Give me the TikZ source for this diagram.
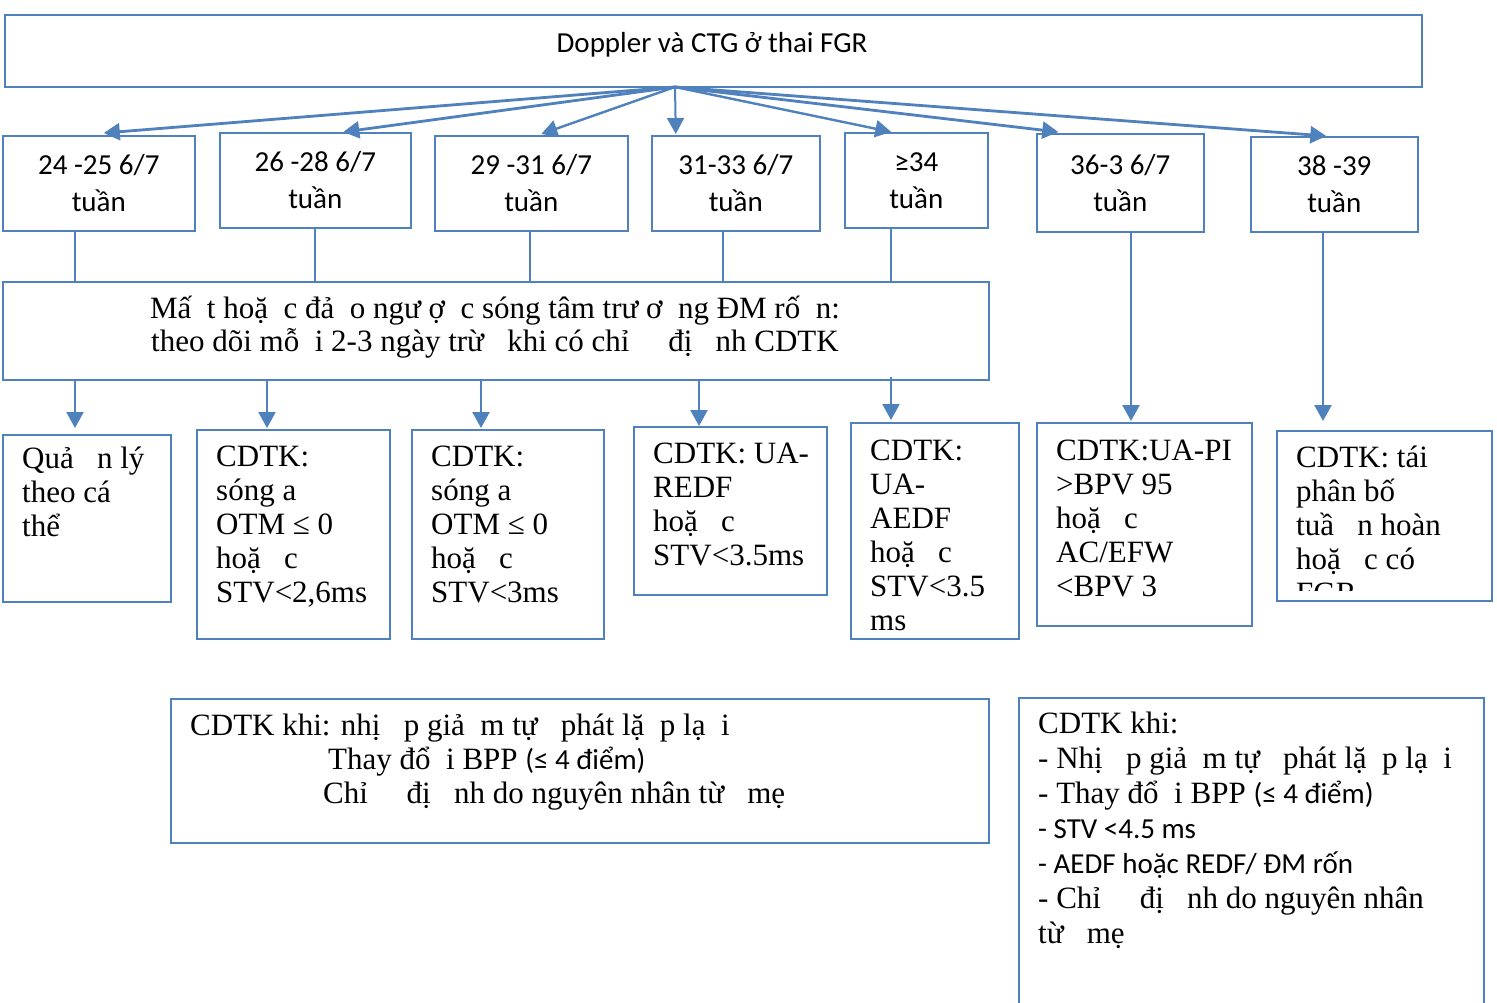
\documentclass[tikz,border=0pt]{standalone}
\usepackage{fontspec}
\setmainfont{Liberation Serif}
\newfontfamily\sansf{Carlito}
\usetikzlibrary{arrows.meta,calc}
\definecolor{bl}{HTML}{4F81BD}
\begin{document}
\begin{tikzpicture}[x=1pt,y=-1pt,
  box/.style={draw=bl,line width=1.6pt,inner sep=0pt,anchor=north west},
  agebox/.style={box,align=center,font=\sansf\fontsize{29}{37}\selectfont},
  txt/.style={anchor=north west,inner sep=0pt,align=left,font=\fontsize{31}{34}\selectfont},
  bigarr/.style={draw=bl,line width=2.8pt,-{Triangle[length=16pt,width=17pt]}},
  arr/.style={draw=bl,line width=2.4pt,-{Triangle[length=16pt,width=17pt]}},
  ln/.style={draw=bl,line width=1.4pt}]
\clip (0,0) rectangle (1497,1003);
\fill[white] (0,0) rectangle (1497,1003);
% top
\node[box,minimum width=1417pt,minimum height=72pt] (top) at (4,14) {};
\node[font=\sansf\fontsize{29}{34}\selectfont,inner sep=0pt] (title) at (712,45) {Doppler và CTG ở thai FGR};
% age boxes
\node[agebox,minimum width=192pt,minimum height=95pt] (b1) at (2,135) {24 -25 6/7\\tuần};
\node[agebox,minimum width=191pt,minimum height=95pt] (b2) at (219,132) {26 -28 6/7\\tuần};
\node[agebox,minimum width=193pt,minimum height=95pt] (b3) at (434,135) {29 -31 6/7\\tuần};
\node[agebox,minimum width=168pt,minimum height=95pt] (b4) at (651,135) {31-33 6/7\\tuần};
\node[agebox,minimum width=143pt,minimum height=95pt] (b5) at (844,132) {≥34\\tuần};
\node[agebox,minimum width=167pt,minimum height=98pt] (b6) at (1036,133) {36-3 6/7\\tuần};
\node[agebox,minimum width=167pt,minimum height=95pt] (b7) at (1250,136) {38 -39\\tuần};
% hub arrows
\coordinate (hub) at (675,87);
\draw[bigarr] (hub) -- ([xshift=5pt,yshift=2pt]b1.north);
\draw[bigarr] (hub) -- ([xshift=28pt,yshift=0pt]b2.north);
\draw[bigarr,line width=2.4pt] (hub) -- ([xshift=10pt,yshift=1pt]b3.north);
\draw[bigarr,line width=2pt] (hub) -- ([xshift=-60pt,yshift=1pt]b4.north);
\draw[bigarr,line width=2.4pt] (hub) -- ([xshift=-25pt,yshift=0pt]b5.north);
\draw[bigarr] (hub) -- ([xshift=-62pt,yshift=1pt]b6.north);
\draw[bigarr] (hub) -- ([xshift=-8pt,yshift=0pt]b7.north);
% middle box
\node[box,minimum width=986pt,minimum height=98pt] (mid) at (2,281) {};
\node[align=center,inner sep=0pt,font=\fontsize{31}{33}\selectfont] (midt) at (495,327)
  {Mấ~ t hoặ~ c đả~ o ngư ợ~ c sóng tâm trư ơ~ ng ĐM rố~ n:\\
   theo dõi mỗ~ i 2-3 ngày trừ~ ~khi có chỉ~ ~ ~đị~ ~nh CDTK};
% columns
\coordinate (x1) at (75,0);
\coordinate (x2) at (315,0);
\coordinate (x3) at (530,0);
\coordinate (x4) at (723,0);
\coordinate (x5) at (891,0);
\coordinate (y1) at (267,0);
\coordinate (y2) at (481,0);
\coordinate (y3) at (699,0);
\coordinate (x6) at (1131,0);
\coordinate (x7) at (1323,0);
\draw[ln] (x1 |- b1.south) -- (x1 |- mid.north);
\draw[ln] (x2 |- b2.south) -- (x2 |- mid.north);
\draw[ln] (x3 |- b3.south) -- (x3 |- mid.north);
\draw[ln] (x4 |- b4.south) -- (x4 |- mid.north);
\draw[ln] (x5 |- b5.south) -- (x5 |- mid.north);
% row 3 boxes
\node[box,minimum width=168pt,minimum height=167pt] (ra) at (2,434) {};
\node[box,minimum width=193pt,minimum height=209pt] (rb) at (196,429) {};
\node[box,minimum width=192pt,minimum height=209pt] (rc) at (411,429) {};
\node[box,minimum width=193pt,minimum height=168pt] (rd) at (633,426) {};
\node[box,minimum width=168pt,minimum height=216pt] (re) at (850,422) {};
\node[box,minimum width=215pt,minimum height=203pt] (rf) at (1036,422) {};
\node[box,minimum width=215pt,minimum height=170pt] (rg) at (1276,430) {};
% arrows to row 3
\draw[arr] (x1 |- mid.south) -- ([yshift=6pt]x1 |- ra.north);
\draw[arr] (y1 |- mid.south) -- ([yshift=1pt]y1 |- rb.north);
\draw[arr] (y2 |- mid.south) -- ([yshift=1pt]y2 |- rc.north);
\draw[arr] (y3 |- mid.south) -- ([yshift=0pt]y3 |- rd.north);
\draw[arr] ([yshift=4pt]x5 |- mid.south) -- ([yshift=2pt]x5 |- re.north);
\draw[arr] (x6 |- b6.south) -- ([yshift=1pt]x6 |- rf.north);
\draw[arr] (x7 |- b7.south) -- ([yshift=9pt]x7 |- rg.north);
% row 3 texts
\node[txt] (ta) at (22,440) {\rule{0pt}{28pt}Quả~ ~n lý\\theo cá\\thể};
\node[txt] (tb) at (216,438) {\rule{0pt}{28pt}CDTK:\\sóng a\\OTM ≤ 0\\hoặ~ ~c\\STV<2,6ms};
\node[txt] (tc) at (431,438) {\rule{0pt}{28pt}CDTK:\\sóng a\\OTM ≤ 0\\hoặ~ ~c\\STV<3ms};
\node[txt] (td) at (653,435) {\rule{0pt}{28pt}CDTK: UA-\\REDF\\hoặ~ ~c\\STV<3.5ms};
\node[txt] (te) at (870,432) {\rule{0pt}{28pt}CDTK:\\UA-\\AEDF\\hoặ~ ~c\\STV<3.5\\ms};
\node[txt] (tf) at (1056,432) {\rule{0pt}{28pt}CDTK:UA-PI\\>BPV 95\\hoặ~ ~c\\AC/EFW\\<BPV 3};
\begin{scope}
\clip (1276,430) rectangle (1491,590);
\node[txt] (tg) at (1296,439) {\rule{0pt}{28pt}CDTK: tái\\phân bố\\tuầ~ ~n hoàn\\hoặ~ ~c có\\FGR};
\end{scope}
% bottom boxes
\node[box,minimum width=818pt,minimum height=144pt] (bh) at (170,698) {};
\node[box,minimum width=465pt,minimum height=330pt] (bi) at (1018,697) {};
\node[txt] (th) at (190,707) {\rule{0pt}{28pt}CDTK khi: nhị~ ~p giả~ m tự~ ~phát lặ~ p lạ~ i\\
  \hspace*{138pt}Thay đổ~ i BPP {\sansf\fontsize{29}{34}\selectfont(≤ 4 điểm)}\\
  \hspace*{133pt}Chỉ~ ~ ~đị~ ~nh do nguyên nhân từ~ ~mẹ};
\node[txt,font=\fontsize{31}{35}\selectfont] (ti) at (1038,705) {\rule{0pt}{28pt}CDTK khi:\\
  - Nhị~ ~p giả~ m tự~ ~phát lặ~ p lạ~ i\\
  - Thay đổ~ i BPP {\sansf\fontsize{29}{35}\selectfont(≤ 4 điểm)}\\
  {\sansf\fontsize{29}{35}\selectfont - STV <4.5 ms}\\
  {\sansf\fontsize{29}{35}\selectfont - AEDF hoặc REDF/ ĐM rốn}\\
  - Chỉ~ ~ ~đị~ ~nh do nguyên nhân\\
  từ~ ~mẹ};
\end{tikzpicture}
\end{document}
